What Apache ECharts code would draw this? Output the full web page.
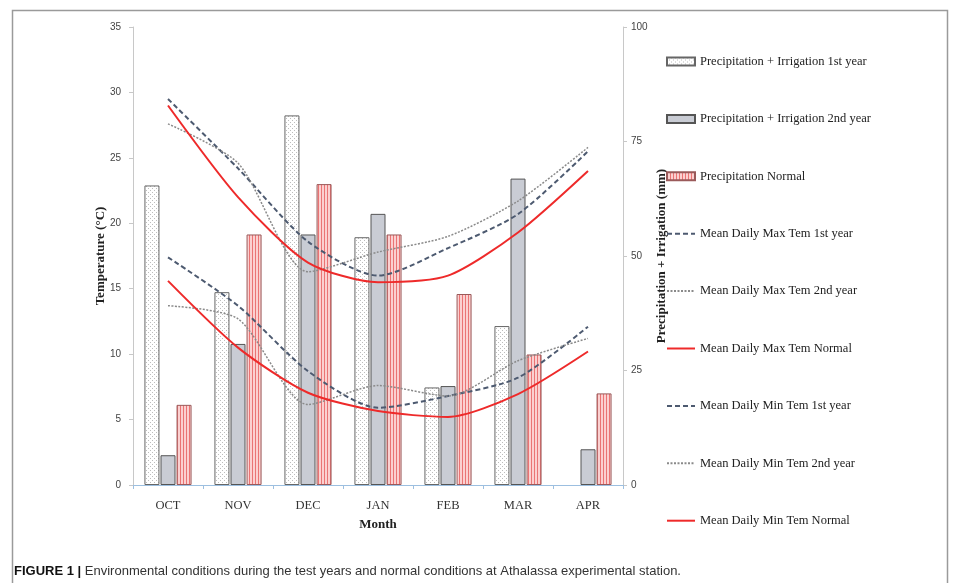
<!DOCTYPE html>
<html><head><meta charset="utf-8">
<script src="https://cdn.jsdelivr.net/npm/echarts@6/dist/echarts.min.js"></script>
<style>html,body{margin:0;padding:0;background:#fff}#c{width:956px;height:583px}</style>
</head><body><div id="c"></div>
<script>
const months = ['OCT','NOV','DEC','JAN','FEB','MAR','APR'];
const tempTicks = [0,5,10,15,20,25,30,35];
const precipTicks = [0,25,50,75,100];
const precip1 = [65.4, 42.1, 80.7, 54.1, 21.3, 34.7, null];
const precip2 = [6.5, 30.8, 54.7, 59.2, 21.6, 66.9, 7.8];
const precipN = [17.5, 54.7, 65.7, 54.7, 41.7, 28.5, 20.0];
const max1 = [29.5, 24.2, 18.6, 16.0, 18.1, 20.7, 25.5];
const max2 = [27.6, 24.6, 16.3, 17.8, 19.0, 21.7, 25.8];
const maxN = [29.0, 22.0, 17.0, 15.5, 16.0, 19.3, 24.0];
const min1 = [17.4, 13.7, 8.7, 5.9, 6.8, 8.2, 12.1];
const min2 = [13.7, 12.7, 6.15, 7.6, 6.8, 9.5, 11.2];
const minN = [15.6, 10.5, 7.05, 5.65, 5.2, 6.95, 10.2];

function dotPattern(){
  const c=document.createElement('canvas');c.width=4;c.height=4;
  const g=c.getContext('2d');g.fillStyle='#ffffff';g.fillRect(0,0,4,4);
  g.fillStyle='#bdbdbd';g.fillRect(0,0,1,1);g.fillRect(2,2,1,1);
  return c;
}
function stripePattern(){
  const c=document.createElement('canvas');c.width=3;c.height=4;
  const g=c.getContext('2d');g.fillStyle='#fbd0d0';g.fillRect(0,0,3,4);
  g.fillStyle='#ea7474';g.fillRect(0,0,1,4);
  return c;
}
const serif = '"Liberation Serif","Times New Roman",serif';
const sans = '"Liberation Sans",Arial,sans-serif';
const chart = echarts.init(document.getElementById('c'));
const lineBase = {type:'line', yAxisIndex:0, smooth:0.25, symbol:'none', showSymbol:false, z:5};
const barNames = ['Precipitation + Irrigation 1st year','Precipitation + Irrigation 2nd year','Precipitation Normal'];
const lineNames = ['Mean Daily Max Tem 1st year','Mean Daily Max Tem 2nd year','Mean Daily Max Tem Normal',
      'Mean Daily Min Tem 1st year','Mean Daily Min Tem 2nd year','Mean Daily Min Tem Normal'];
chart.setOption({
  animation:false,
  backgroundColor:'#fff',
  grid:{left:133, right:333, top:27, bottom:98},
  legend:{
    orient:'vertical', left:661, top:50, itemWidth:28, itemHeight:8, itemGap:44.4,
    textStyle:{fontFamily:serif, fontSize:12.5, color:'#222'},
    data: barNames.map(n=>({name:n, icon:'rect'})).concat(lineNames.map(n=>({name:n, itemStyle:{opacity:0}})))
  },
  xAxis:{
    type:'category', data:months, boundaryGap:true,
    name:'Month', nameLocation:'middle', nameGap:33,
    nameTextStyle:{fontFamily:serif, fontWeight:'bold', fontSize:13, color:'#222'},
    axisLine:{lineStyle:{color:'#9cbfe0', width:1}},
    axisTick:{show:true, length:4, lineStyle:{color:'#9cbfe0'}},
    axisLabel:{fontFamily:serif, fontSize:12.5, color:'#333', margin:14}
  },
  yAxis:[
    {type:'value', min:0, max:35, interval:5, position:'left',
     name:'Temperature (°C)', nameLocation:'middle', nameGap:26, nameMoveOverlap:false,
     nameTextStyle:{fontFamily:serif, fontWeight:'bold', fontSize:13, color:'#222'},
     axisLine:{show:true, lineStyle:{color:'#c8c8c8'}},
     axisTick:{show:true, length:4, lineStyle:{color:'#c8c8c8'}},
     splitLine:{show:false},
     axisLabel:{fontFamily:sans, fontSize:10, color:'#444', margin:12}},
    {type:'value', min:0, max:100, interval:25, position:'right',
     name:'Precipitation + Irrigation (mm)', nameLocation:'middle', nameGap:32, nameRotate:90, nameMoveOverlap:false,
     nameTextStyle:{fontFamily:serif, fontWeight:'bold', fontSize:13, color:'#222'},
     axisLine:{show:true, lineStyle:{color:'#c8c8c8'}},
     axisTick:{show:true, length:4, lineStyle:{color:'#c8c8c8'}},
     splitLine:{show:false},
     axisLabel:{fontFamily:sans, fontSize:10, color:'#444', margin:8}}
  ],
  series:[
    {name:barNames[0], type:'bar', yAxisIndex:1, data:precip1, barWidth:15, barGap:'7%',
     itemStyle:{color:{image:dotPattern(), repeat:'repeat'}, borderColor:'#666', borderWidth:1}},
    {name:barNames[1], type:'bar', yAxisIndex:1, data:precip2, barWidth:15, barGap:'7%',
     itemStyle:{color:'#c9ccd4', borderColor:'#555', borderWidth:1}},
    {name:barNames[2], type:'bar', yAxisIndex:1, data:precipN, barWidth:15, barGap:'7%',
     itemStyle:{color:{image:stripePattern(), repeat:'repeat'}, borderColor:'#9a5a5a', borderWidth:1}},
    Object.assign({}, lineBase, {name:lineNames[0], data:max1,
      lineStyle:{color:'#4d5a70', width:2, type:[5,3]}, itemStyle:{color:'#4d5a70'}}),
    Object.assign({}, lineBase, {name:lineNames[1], data:max2,
      lineStyle:{color:'#8a8a8a', width:1.5, type:[2,1.5]}, itemStyle:{color:'#8a8a8a'}}),
    Object.assign({}, lineBase, {name:lineNames[2], data:maxN,
      lineStyle:{color:'#ee2a2a', width:2}, itemStyle:{color:'#ee2a2a'}}),
    Object.assign({}, lineBase, {name:lineNames[3], data:min1,
      lineStyle:{color:'#4d5a70', width:2, type:[5,3]}, itemStyle:{color:'#4d5a70'}}),
    Object.assign({}, lineBase, {name:lineNames[4], data:min2,
      lineStyle:{color:'#8a8a8a', width:1.5, type:[2,1.5]}, itemStyle:{color:'#8a8a8a'}}),
    Object.assign({}, lineBase, {name:lineNames[5], data:minN,
      lineStyle:{color:'#ee2a2a', width:2}, itemStyle:{color:'#ee2a2a'}})
  ],
  graphic:[
    {type:'rect', left:10, top:8, shape:{width:935, height:600}, silent:true,
     style:{fill:null, stroke:'#9a9a9a', lineWidth:1.5}},
    {type:'text', left:14, top:565, silent:true,
     style:{text:'{b|FIGURE 1 |} Environmental conditions during the test years and normal conditions at Athalassa experimental station.',
       font:'13px "Liberation Sans",Arial,sans-serif', fill:'#333',
       rich:{b:{fontWeight:'bold', fontSize:13, fill:'#111', fontFamily:sans}}}}
  ]
});
</script></body></html>
